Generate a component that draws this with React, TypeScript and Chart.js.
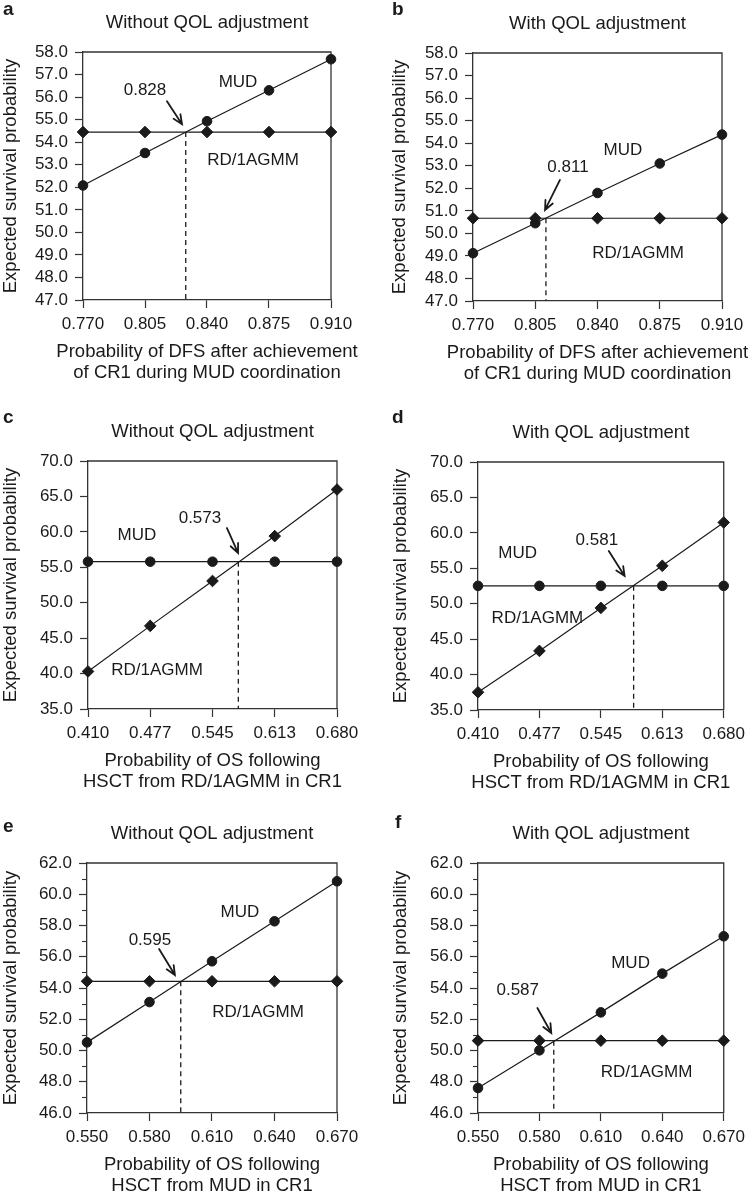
import React, { useEffect, useRef } from 'react';
import { Chart, registerables } from 'chart.js';

Chart.register(...registerables);

const FONT = '"Liberation Sans", Arial, Helvetica, sans-serif';
const INK = '#1a1a1a';
const AXIS = '#333333';

// ---------- shared axis values ----------
const dfsX = [0.77, 0.805, 0.84, 0.875, 0.91];
const dfsXLabels = ['0.770', '0.805', '0.840', '0.875', '0.910'];
const rdOsX = [0.41, 0.4775, 0.545, 0.6125, 0.68];
const rdOsXLabels = ['0.410', '0.477', '0.545', '0.613', '0.680'];
const mudOsX = [0.55, 0.58, 0.61, 0.64, 0.67];
const mudOsXLabels = ['0.550', '0.580', '0.610', '0.640', '0.670'];

const dfsTitle = ['Probability of DFS after achievement', 'of CR1 during MUD coordination'];
const rdOsTitle = ['Probability of OS following', 'HSCT from RD/1AGMM in CR1'];
const mudOsTitle = ['Probability of OS following', 'HSCT from MUD in CR1'];
const yTitle = 'Expected survival probability';
const titleWithout = 'Without QOL adjustment';
const titleWith = 'With QOL adjustment';

// ---------- panel a ----------
const aMud = [52.08, 53.52, 54.93, 56.3, 57.68];
const aRd = [54.45, 54.45, 54.45, 54.45, 54.45];
const aCross = 0.828;
const aMudNote = [0.8575, 56.67];
const aRdNote = [0.866, 53.21];
const aCrossNote = [0.805, 56.3];
const aArrow = [0.8174, 55.82, 0.8259, 54.8];

// ---------- panel b ----------
const bMud = [49.12, 50.45, 51.79, 53.1, 54.38];
const bRd = [50.67, 50.67, 50.67, 50.67, 50.67];
const bCross = 0.811;
const bMudNote = [0.8543, 53.7];
const bRdNote = [0.8628, 49.13];
const bCrossNote = [0.8234, 52.94];
const bArrow = [0.8189, 52.37, 0.8105, 51.04];

// ---------- panel c ----------
const cMud = [55.79, 55.79, 55.79, 55.79, 55.79];
const cRd = [40.3, 46.73, 53.07, 59.4, 65.97];
const cCross = 0.573;
const cMudNote = [0.4631, 59.56];
const cRdNote = [0.4848, 40.5];
const cCrossNote = [0.5314, 61.95];
const cArrow = [0.5607, 60.54, 0.5727, 57.02];

// ---------- panel d ----------
const dMud = [52.52, 52.52, 52.52, 52.52, 52.52];
const dRd = [37.5, 43.34, 49.41, 55.35, 61.47];
const dCross = 0.581;
const dMudNote = [0.4535, 57.16];
const dRdNote = [0.4753, 47.98];
const dCrossNote = [0.5406, 59.0];
const dArrow = [0.5537, 57.44, 0.5711, 53.91];

// ---------- panel e ----------
const eMud = [50.52, 53.1, 55.71, 58.27, 60.83];
const eRd = [54.43, 54.43, 54.43, 54.43, 54.43];
const eCross = 0.595;
const eMudNote = [0.6234, 58.86];
const eRdNote = [0.6321, 52.46];
const eCrossNote = [0.5802, 57.07];
const eArrow = [0.5846, 56.5, 0.5922, 54.83];

// ---------- panel f ----------
const fMud = [47.6, 50.01, 52.44, 54.92, 57.31];
const fRd = [50.63, 50.63, 50.63, 50.63, 50.63];
const fCross = 0.587;
const fMudNote = [0.6245, 55.6];
const fRdNote = [0.6323, 48.62];
const fCrossNote = [0.5694, 53.87];
const fArrow = [0.579, 52.72, 0.5858, 51.12];

type Box = {
  left: number; top: number; width: number; height: number;
  padLeft: number; yWidth: number; padTop: number; padRight: number; padBottom: number;
  letterX: number; letterY: number;
};

type PanelDef = {
  letter: string; title: string; xTitle: string[];
  xValues: number[]; xLabels: string[];
  mud: number[]; rd: number[]; horizontal: 'mud' | 'rd';
  cross: number;
  yMin: number; yMax: number; yStep: number; yLabelEvery: number;
  mudNote: number[]; rdNote: number[]; crossNote: number[]; arrow: number[];
  box: Box;
};

const panels: PanelDef[] = [
  {
    letter: 'a', title: titleWithout, xTitle: dfsTitle, xValues: dfsX, xLabels: dfsXLabels,
    mud: aMud, rd: aRd, horizontal: 'rd', cross: aCross,
    yMin: 47, yMax: 58, yStep: 1, yLabelEvery: 1,
    mudNote: aMudNote, rdNote: aRdNote, crossNote: aCrossNote, arrow: aArrow,
    box: { left: 0, top: 0, width: 375, height: 400, padLeft: 0, yWidth: 83, padTop: 52, padRight: 44, padBottom: 16.5, letterX: 3, letterY: 15 },
  },
  {
    letter: 'b', title: titleWith, xTitle: dfsTitle, xValues: dfsX, xLabels: dfsXLabels,
    mud: bMud, rd: bRd, horizontal: 'rd', cross: bCross,
    yMin: 47, yMax: 58, yStep: 1, yLabelEvery: 1,
    mudNote: bMudNote, rdNote: bRdNote, crossNote: bCrossNote, arrow: bArrow,
    box: { left: 375, top: 0, width: 376, height: 400, padLeft: 14.5, yWidth: 83.5, padTop: 53, padRight: 29, padBottom: 15.5, letterX: 17, letterY: 15 },
  },
  {
    letter: 'c', title: titleWithout, xTitle: rdOsTitle, xValues: rdOsX, xLabels: rdOsXLabels,
    mud: cMud, rd: cRd, horizontal: 'mud', cross: cCross,
    yMin: 35, yMax: 70, yStep: 5, yLabelEvery: 5,
    mudNote: cMudNote, rdNote: cRdNote, crossNote: cCrossNote, arrow: cArrow,
    box: { left: 0, top: 400, width: 375, height: 400, padLeft: 0, yWidth: 88, padTop: 61, padRight: 38, padBottom: 7.5, letterX: 3, letterY: 23 },
  },
  {
    letter: 'd', title: titleWith, xTitle: rdOsTitle, xValues: rdOsX, xLabels: rdOsXLabels,
    mud: dMud, rd: dRd, horizontal: 'mud', cross: dCross,
    yMin: 35, yMax: 70, yStep: 5, yLabelEvery: 5,
    mudNote: dMudNote, rdNote: dRdNote, crossNote: dCrossNote, arrow: dArrow,
    box: { left: 375, top: 400, width: 376, height: 400, padLeft: 15.5, yWidth: 87.5, padTop: 62, padRight: 25, padBottom: 6.5, letterX: 17, letterY: 23 },
  },
  {
    letter: 'e', title: titleWithout, xTitle: mudOsTitle, xValues: mudOsX, xLabels: mudOsXLabels,
    mud: eMud, rd: eRd, horizontal: 'rd', cross: eCross,
    yMin: 46, yMax: 62, yStep: 1, yLabelEvery: 2,
    mudNote: eMudNote, rdNote: eRdNote, crossNote: eCrossNote, arrow: eArrow,
    box: { left: 0, top: 800, width: 375, height: 397, padLeft: 0.5, yWidth: 86.5, padTop: 63, padRight: 38, padBottom: 0.5, letterX: 3, letterY: 32 },
  },
  {
    letter: 'f', title: titleWith, xTitle: mudOsTitle, xValues: mudOsX, xLabels: mudOsXLabels,
    mud: fMud, rd: fRd, horizontal: 'rd', cross: fCross,
    yMin: 46, yMax: 62, yStep: 1, yLabelEvery: 2,
    mudNote: fMudNote, rdNote: fRdNote, crossNote: fCrossNote, arrow: fArrow,
    box: { left: 375, top: 800, width: 376, height: 397, padLeft: 15.5, yWidth: 87.5, padTop: 63, padRight: 25, padBottom: 0.5, letterX: 20, letterY: 28 },
  },
];

const isLabeled = (v: number, def: PanelDef) =>
  Math.abs(((v - def.yMin) / def.yLabelEvery) - Math.round((v - def.yMin) / def.yLabelEvery)) < 1e-6;

const decor = {
  id: 'decor',
  beforeDatasetsDraw(chart: any, _args: any, opts: any) {
    const def: PanelDef = opts.def;
    const { ctx, chartArea: ca } = chart;
    ctx.save();
    ctx.strokeStyle = AXIS;
    ctx.lineWidth = 1.3;
    ctx.beginPath();
    ctx.moveTo(ca.left, ca.top);
    ctx.lineTo(ca.right, ca.top);
    ctx.lineTo(ca.right, ca.bottom);
    ctx.stroke();
    // minor ticks
    const ys = chart.scales.y;
    ctx.lineWidth = 1.1;
    ys.ticks.forEach((t: any) => {
      if (!isLabeled(t.value, def)) {
        const py = Math.round(ys.getPixelForValue(t.value)) + 0.5;
        ctx.beginPath();
        ctx.moveTo(ca.left - 5, py);
        ctx.lineTo(ca.left, py);
        ctx.stroke();
      }
    });
    ctx.restore();
  },
  afterDatasetsDraw(chart: any, _args: any, opts: any) {
    const def: PanelDef = opts.def;
    const { ctx, chartArea: ca } = chart;
    const xs = chart.scales.x;
    const ys = chart.scales.y;
    const px = (v: number) => xs.getPixelForValue(v);
    const py = (v: number) => ys.getPixelForValue(v);
    const cx = (ca.left + ca.right) / 2;
    ctx.save();
    ctx.fillStyle = INK;
    // panel title
    ctx.font = `18.5px ${FONT}`;
    ctx.textAlign = 'center';
    ctx.textBaseline = 'middle';
    ctx.fillText(def.title, cx, ca.top - 29);
    // x axis title (two lines)
    def.xTitle.forEach((line, i) => {
      ctx.fillText(line, cx, ca.bottom + 52 + i * 21);
    });
    // panel letter
    ctx.font = `bold 19px ${FONT}`;
    ctx.textAlign = 'left';
    ctx.textBaseline = 'alphabetic';
    ctx.fillText(def.letter, def.box.letterX, def.box.letterY);
    // notes
    ctx.font = `17px ${FONT}`;
    ctx.textAlign = 'center';
    ctx.textBaseline = 'middle';
    ctx.fillText('MUD', px(def.mudNote[0]), py(def.mudNote[1]));
    ctx.fillText('RD/1AGMM', px(def.rdNote[0]), py(def.rdNote[1]));
    ctx.fillText(def.cross.toFixed(3), px(def.crossNote[0]), py(def.crossNote[1]));
    // arrow
    const x0 = px(def.arrow[0]);
    const y0 = py(def.arrow[1]);
    const x1 = px(def.arrow[2]);
    const y1 = py(def.arrow[3]);
    const ang = Math.atan2(y1 - y0, x1 - x0);
    const hl = 10;
    const sp = 0.42;
    ctx.strokeStyle = INK;
    ctx.lineWidth = 1.8;
    ctx.lineCap = 'round';
    ctx.beginPath();
    ctx.moveTo(x0, y0);
    ctx.lineTo(x1, y1);
    ctx.moveTo(x1 - hl * Math.cos(ang - sp), y1 - hl * Math.sin(ang - sp));
    ctx.lineTo(x1, y1);
    ctx.lineTo(x1 - hl * Math.cos(ang + sp), y1 - hl * Math.sin(ang + sp));
    ctx.stroke();
    ctx.restore();
  },
};

function buildConfig(def: PanelDef): any {
  const horiz = def.horizontal === 'mud' ? def.mud : def.rd;
  const crossY = horiz[0];
  const mudData = def.xValues.map((x, i) => ({ x, y: def.mud[i] }));
  const rdData = def.xValues.map((x, i) => ({ x, y: def.rd[i] }));
  return {
    type: 'line',
    data: {
      datasets: [
        {
          label: 'RD/1AGMM', data: rdData, pointStyle: 'rectRot', pointRadius: 5.8,
          backgroundColor: INK, borderColor: INK, pointBorderColor: INK, pointBackgroundColor: INK,
          borderWidth: 1.2, pointBorderWidth: 1, clip: false, tension: 0,
        },
        {
          label: 'MUD', data: mudData, pointStyle: 'circle', pointRadius: 4.8,
          backgroundColor: INK, borderColor: INK, pointBorderColor: INK, pointBackgroundColor: INK,
          borderWidth: 1.2, pointBorderWidth: 1, clip: false, tension: 0,
        },
        {
          label: 'cross', data: [{ x: def.cross, y: crossY }, { x: def.cross, y: def.yMin }],
          borderColor: INK, borderWidth: 1.3, borderDash: [5, 4], pointRadius: 0, clip: false,
        },
      ],
    },
    options: {
      responsive: false,
      animation: false,
      devicePixelRatio: 1,
      events: [],
      layout: {
        padding: { left: def.box.padLeft, top: def.box.padTop, right: def.box.padRight, bottom: def.box.padBottom },
      },
      plugins: {
        legend: { display: false },
        tooltip: { enabled: false },
        title: { display: false },
        decor: { def },
      },
      scales: {
        x: {
          type: 'linear',
          min: def.xValues[0],
          max: def.xValues[def.xValues.length - 1],
          afterBuildTicks: (scale: any) => {
            scale.ticks = def.xValues.map((v) => ({ value: v }));
          },
          afterFit: (scale: any) => {
            scale.height = 83.5;
          },
          ticks: {
            autoSkip: false, maxRotation: 0, padding: 6, color: INK,
            font: { family: FONT, size: 17 },
            callback: (_v: any, i: number) => def.xLabels[i],
          },
          grid: { drawOnChartArea: false, drawTicks: true, tickLength: 8, color: AXIS, tickWidth: 1.2 },
          border: { display: true, color: AXIS, width: 1.3 },
          title: { display: false },
        },
        y: {
          type: 'linear',
          min: def.yMin,
          max: def.yMax,
          afterFit: (scale: any) => {
            scale.width = def.box.yWidth;
          },
          ticks: {
            stepSize: def.yStep, autoSkip: false, padding: 7, color: INK,
            font: { family: FONT, size: 17 },
            callback: (v: any) => (isLabeled(Number(v), def) ? Number(v).toFixed(1) : ''),
          },
          grid: {
            drawOnChartArea: false, drawTicks: true, tickLength: 8, tickWidth: 1.2,
            color: AXIS,
            tickColor: (c: any) => (c.tick && !isLabeled(c.tick.value, def) ? 'rgba(0,0,0,0)' : AXIS),
          },
          border: { display: true, color: AXIS, width: 1.3 },
          title: {
            display: true, text: yTitle, color: INK, padding: 0,
            font: { family: FONT, size: 18.5, lineHeight: 1.135 },
          },
        },
      },
    },
    plugins: [decor],
  };
}

function PanelChart({ def }: { def: PanelDef }) {
  const ref = useRef<HTMLCanvasElement | null>(null);
  useEffect(() => {
    if (!ref.current) return;
    const chart = new Chart(ref.current, buildConfig(def));
    return () => chart.destroy();
  }, [def]);
  const b = def.box;
  return (
    <canvas
      ref={ref}
      width={b.width}
      height={b.height}
      style={{ position: 'absolute', left: b.left, top: b.top, width: b.width, height: b.height }}
    />
  );
}

export default function App() {
  return (
    <div style={{ position: 'absolute', left: 0, top: 0, width: 751, height: 1197, background: '#ffffff', overflow: 'hidden' }}>
      {panels.map((p) => (
        <PanelChart key={p.letter} def={p} />
      ))}
    </div>
  );
}
